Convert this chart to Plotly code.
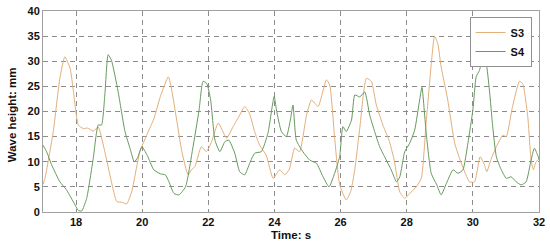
import plotly.graph_objects as go

s3_t = [17.0, 17.06, 17.31, 17.51, 17.66, 17.82, 17.92, 18.07, 18.22, 18.35, 18.52, 18.67, 18.87, 19.07, 19.23, 19.4, 19.53, 19.68, 19.93,
        20.15, 20.35, 20.55, 20.79, 20.9, 21.05, 21.2, 21.39, 21.5, 21.59, 21.79, 21.94, 22.1, 22.3, 22.55, 22.75, 22.95,
        23.1, 23.25, 23.4, 23.55, 23.75, 23.96, 24.16, 24.31, 24.45, 24.61, 24.76, 24.97, 25.12, 25.32, 25.57, 25.67,
        25.82, 25.97, 26.17, 26.3, 26.42, 26.58, 26.78, 26.93, 27.08, 27.28, 27.48, 27.63, 27.79, 27.94, 28.09, 28.29,
        28.44, 28.59, 28.74, 28.84, 28.94, 29.04, 29.24, 29.45, 29.65, 29.9, 30.05, 30.22, 30.35, 30.42, 30.55, 30.71,
        30.91, 31.01, 31.2, 31.41, 31.51, 31.66, 31.76, 31.83, 31.91, 32.0]
s3_v = [5.5, 6.7, 16.0, 26.6, 30.9, 28.6, 24.0, 17.3, 16.6, 16.7, 16.1, 16.9, 12.0, 6.0, 2.1, 1.9, 1.6, 4.0, 12.0,
        15.5, 18.5, 23.0, 26.9, 24.0, 18.0, 12.0, 7.4, 8.5, 9.0, 13.0, 12.0, 14.0, 17.7, 14.7, 17.0, 19.3,
        21.0, 19.5, 16.0, 13.3, 11.3, 6.7, 8.4, 7.4, 8.5, 12.7, 12.0, 19.3, 22.3, 21.0, 26.3, 25.3,
        14.7, 5.5, 2.4, 4.0, 8.0, 16.7, 26.6, 26.0, 21.3, 17.3, 14.0, 10.0, 4.0, 2.7, 3.7, 5.0,
        6.7, 18.0, 29.3, 35.0, 33.5, 28.9, 22.3, 13.7, 9.7, 6.0, 6.0, 11.0, 9.4, 8.0, 10.5, 13.0,
        15.3, 15.0, 21.0, 26.0, 25.5, 19.0, 10.4, 8.4, 10.0, 10.5]

s4_t = [17.0, 17.11, 17.26, 17.51, 17.7, 17.92, 18.07, 18.17, 18.32, 18.52, 18.67, 18.77, 18.87, 18.97, 19.07, 19.27,
        19.48, 19.63, 19.76, 19.86, 19.99, 20.15, 20.35, 20.55, 20.7, 20.81, 20.96, 21.11, 21.31, 21.52, 21.72, 21.84,
        21.95, 22.07, 22.2, 22.35, 22.5, 22.62, 22.8, 22.95, 23.1, 23.25, 23.4, 23.6, 23.8, 23.99, 24.06, 24.21, 24.36,
        24.48, 24.56, 24.66, 24.86, 25.07, 25.27, 25.47, 25.65, 25.82, 25.97, 26.07, 26.17, 26.33, 26.43, 26.58,
        26.73, 26.88, 27.03, 27.18, 27.33, 27.53, 27.69, 27.79, 27.94, 28.09, 28.24, 28.39, 28.46, 28.59, 28.74,
        28.91, 29.04, 29.2, 29.4, 29.55, 29.7, 29.85, 30.0, 30.1, 30.2, 30.3, 30.4, 30.5, 30.6, 30.71, 30.86,
        31.01, 31.16, 31.31, 31.46, 31.61, 31.76, 31.86, 31.96, 32.0]
s4_v = [13.3, 12.0, 9.4, 6.0, 4.5, 2.0, 0.3, 0.2, 2.7, 10.7, 17.3, 17.3, 23.3, 31.3, 30.2, 24.0,
        16.0, 12.7, 10.0, 10.8, 13.0, 11.3, 8.4, 7.6, 7.4, 6.0, 3.7, 3.4, 5.0, 12.3, 20.3, 26.0,
        25.6, 22.3, 14.3, 12.0, 14.0, 14.3, 11.7, 8.0, 7.4, 9.7, 11.7, 12.0, 15.6, 23.0, 20.3, 16.0, 15.0,
        18.3, 21.3, 14.3, 12.0, 10.3, 9.7, 7.0, 5.0, 7.7, 11.0, 17.0, 16.0, 18.3, 23.3, 22.9,
        23.9, 19.3, 16.0, 13.0, 11.0, 8.4, 6.0, 7.0, 12.0, 13.7, 16.3, 22.3, 24.8, 15.6, 7.7,
        5.4, 3.4, 5.7, 8.4, 7.7, 8.4, 13.7, 20.3, 26.9, 28.2, 30.6, 29.6, 24.3, 17.0, 11.0, 8.4,
        6.7, 7.0, 6.0, 5.4, 6.0, 10.3, 12.7, 11.3, 10.5]

x_ticks = [18, 20, 22, 24, 26, 28, 30, 32]
y_ticks = [0, 5, 10, 15, 20, 25, 30, 35, 40]
x_title = "Time: s"
y_title = "Wave height: mm"

FONT = "Liberation Sans, Arial"

fig = go.Figure()
fig.add_trace(go.Scatter(x=s3_t, y=s3_v, mode="lines", name="<b>S3</b>",
                         line=dict(color="#E3AE78", width=1, shape="spline", smoothing=0.5)))
fig.add_trace(go.Scatter(x=s4_t, y=s4_v, mode="lines", name="<b>S4</b>",
                         line=dict(color="#669A5E", width=1, shape="spline", smoothing=0.5)))

axis_common = dict(showline=True, mirror=True, linecolor="#A0A0A0", linewidth=1,
                   showgrid=True, gridcolor="#8C8C8C", griddash="5px,4px", gridwidth=1,
                   zeroline=False, ticks="", automargin=False,
                   tickfont=dict(family=FONT, size=11, color="#111", weight="bold"))

fig.update_xaxes(range=[17, 32], tickvals=x_ticks, ticktext=[str(v) for v in x_ticks], **axis_common)
fig.update_yaxes(range=[0, 40], tickvals=y_ticks, ticktext=[str(v) for v in y_ticks], **axis_common)

fig.add_annotation(text=x_title, xref="paper", yref="paper", x=0.5, y=-0.115,
                   xanchor="center", yanchor="middle", showarrow=False,
                   font=dict(family=FONT, size=11.5, color="#111", weight="bold"))
fig.add_annotation(text=y_title, xref="paper", yref="paper", x=-0.063, y=0.485,
                   xanchor="center", yanchor="middle", showarrow=False, textangle=-90,
                   font=dict(family=FONT, size=11.5, color="#111", weight="bold"))

fig.update_layout(
    width=550, height=246,
    margin=dict(l=43, r=11, t=11, b=34),
    paper_bgcolor="white", plot_bgcolor="white",
    showlegend=True,
    legend=dict(x=0.985, y=0.97, xanchor="right", yanchor="top",
                bgcolor="white", bordercolor="#909090", borderwidth=1,
                font=dict(family=FONT, size=11, color="#111"),
                tracegroupgap=0, itemwidth=30),
)

fig.write_html("out.html", config={"displayModeBar": False},
               post_script="document.body.style.margin='0';document.body.style.overflow='hidden';")
